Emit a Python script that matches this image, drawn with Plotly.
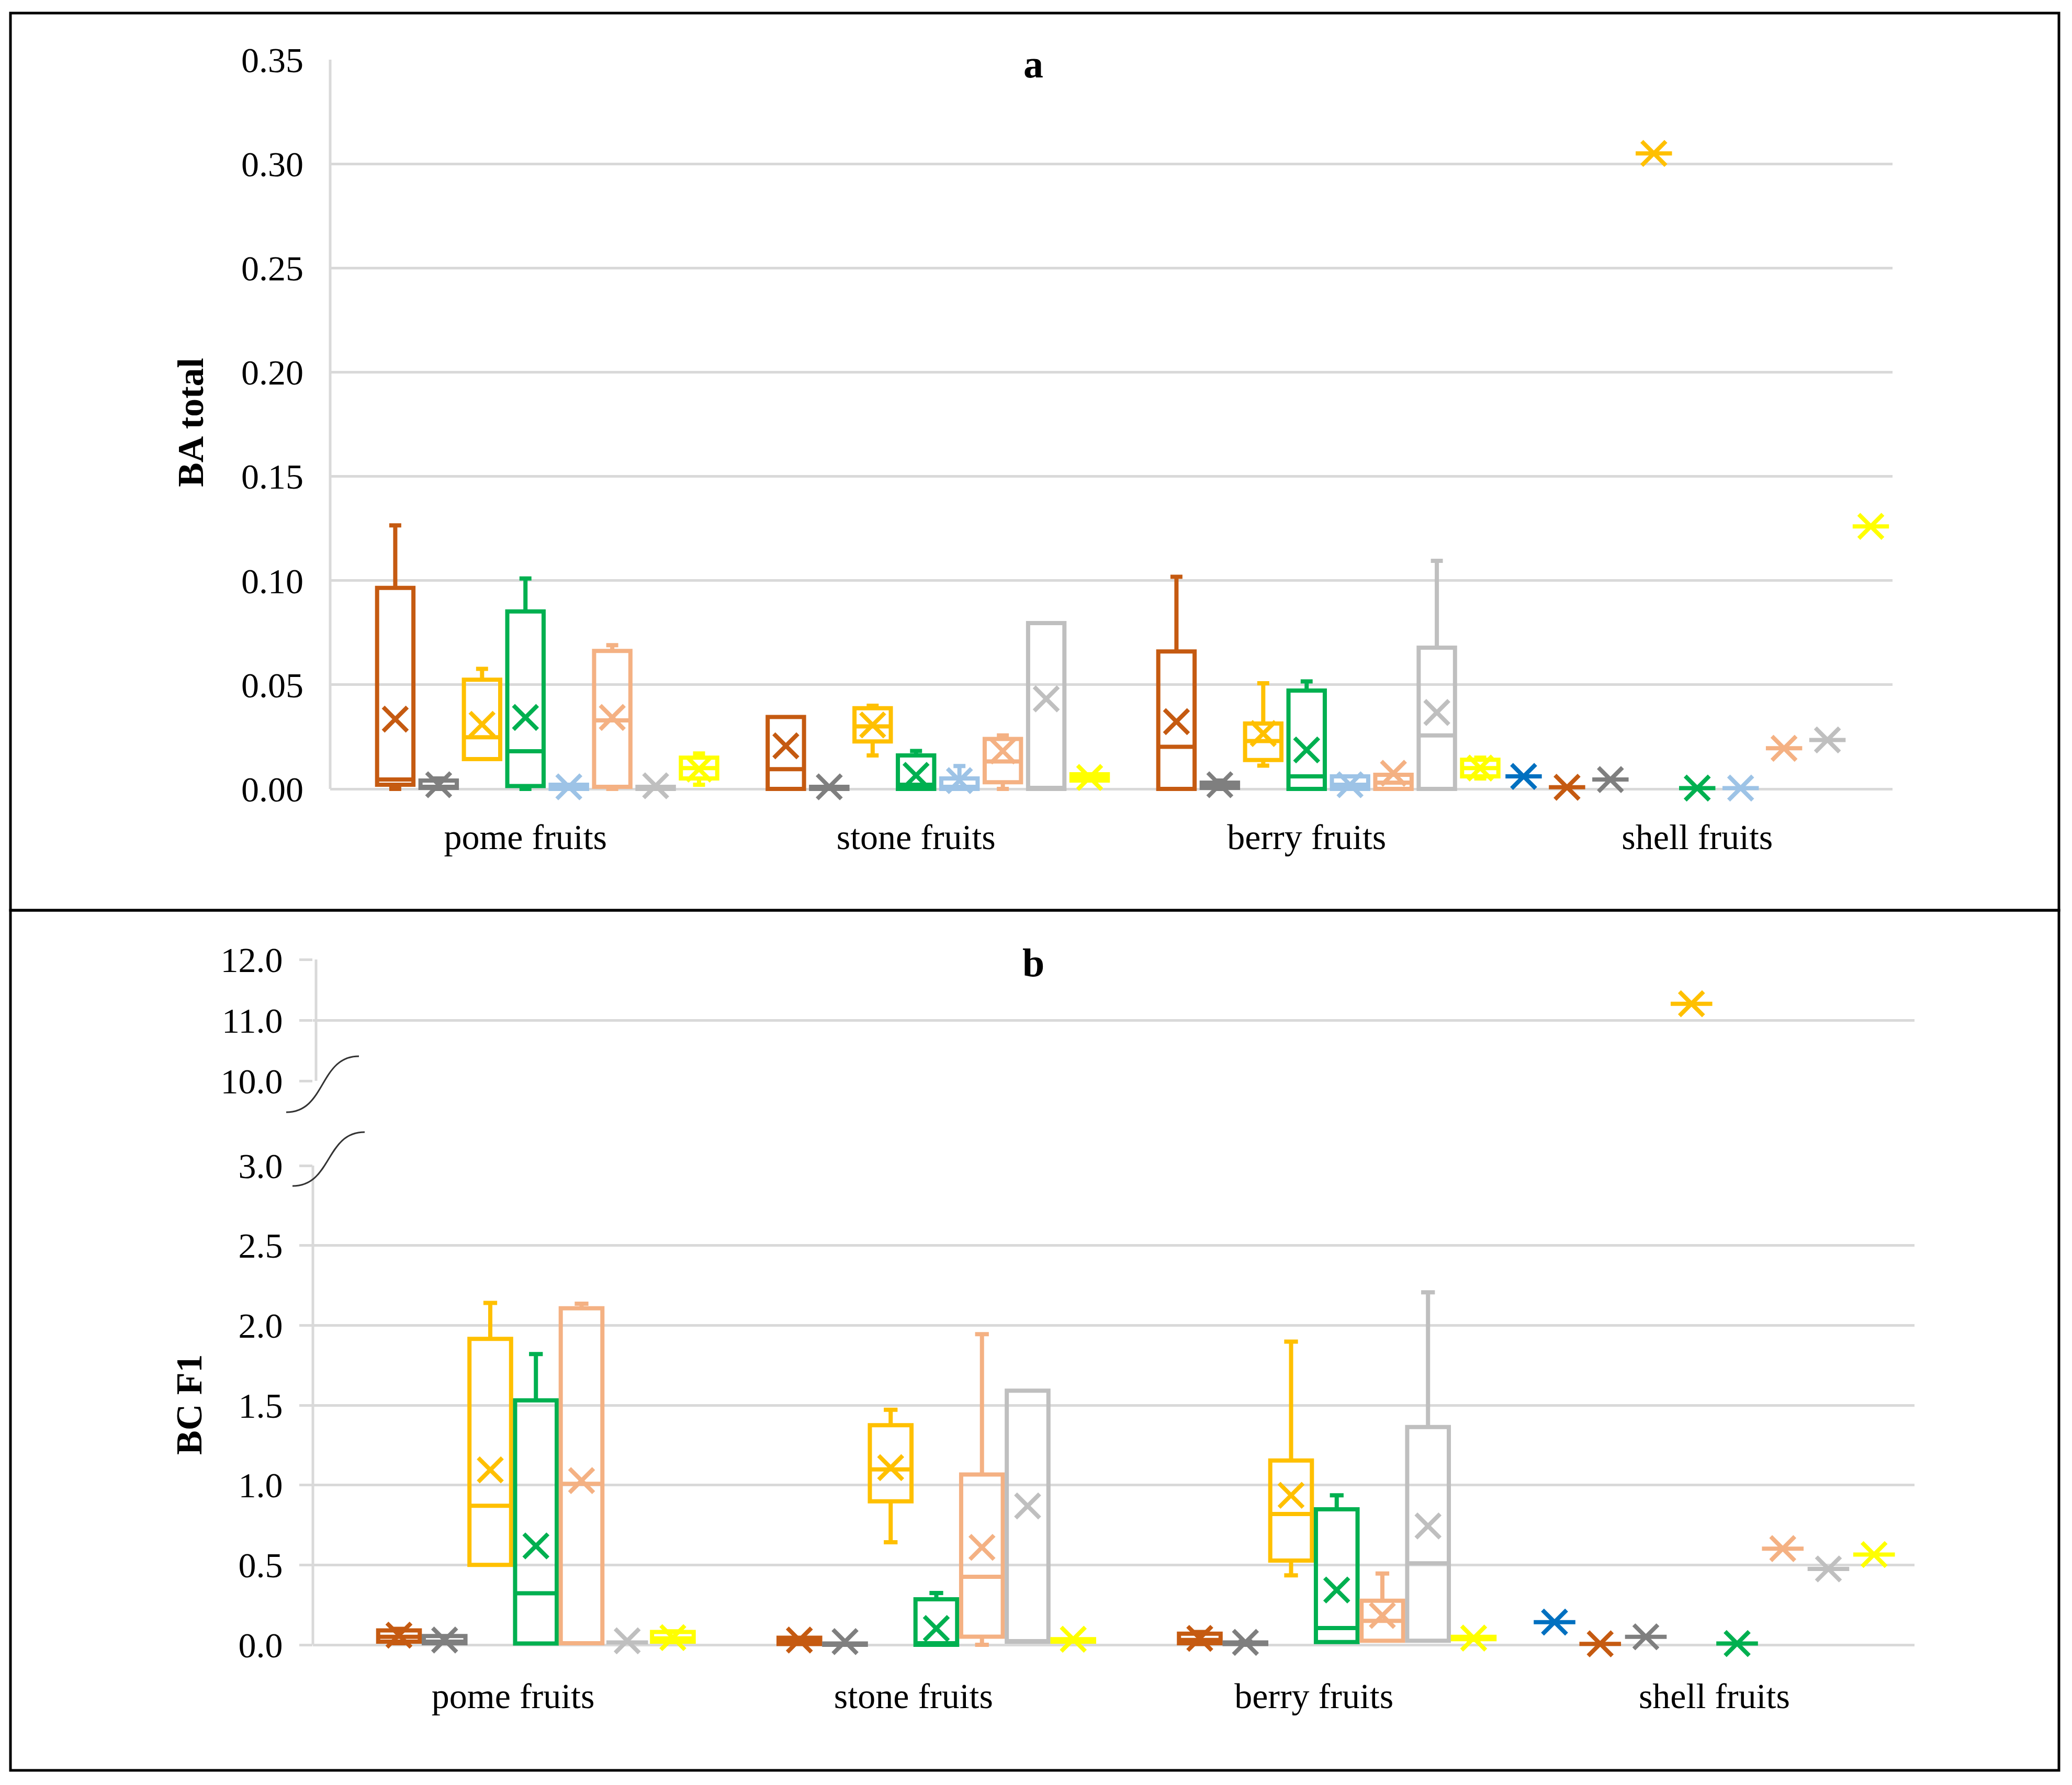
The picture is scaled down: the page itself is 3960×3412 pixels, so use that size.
import plotly.graph_objects as go

W, H = 3960, 3412
PAGE_OFFSET = 8  # default page margin around the plot div
FIG_W, FIG_H = W - PAGE_OFFSET, H - PAGE_OFFSET
FONT = "Liberation Serif"

CATEGORIES = ["pome fruits", "stone fruits", "berry fruits", "shell fruits"]

A_TICKS = [0.00, 0.05, 0.10, 0.15, 0.20, 0.25, 0.30, 0.35]
A_TICK_LABELS = ["0.00", "0.05", "0.10", "0.15", "0.20", "0.25", "0.30", "0.35"]
B_LOW_TICKS = [0.0, 0.5, 1.0, 1.5, 2.0, 2.5, 3.0]
B_LOW_LABELS = ["0.0", "0.5", "1.0", "1.5", "2.0", "2.5", "3.0"]
B_HIGH_TICKS = [10.0, 11.0, 12.0]
B_HIGH_LABELS = ["10.0", "11.0", "12.0"]

SERIES_NAMES = ["blue", "brown", "gray", "gold", "green", "light blue", "peach", "light gray", "yellow"]
SERIES_COLORS = ["#0070C0", "#C55A11", "#7F7F7F", "#FFC000", "#00B050", "#9DC3E6", "#F4B183", "#BFBFBF", "#FFFF00"]

# each entry per category: (min, q1, median, q3, max, mean); None = no data
# Panel a: BA total
A_BLUE = [None, None, None, (0.006, 0.006, 0.006, 0.006, 0.006, 0.006)]
A_BROWN = [(0.0, 0.002, 0.0045, 0.0965, 0.1265, 0.0335),
           (0.0, 0.0, 0.0095, 0.0345, 0.0345, 0.0207),
           (0.0, 0.0, 0.0202, 0.066, 0.1018, 0.0323),
           (0.0008, 0.0008, 0.0008, 0.0008, 0.0008, 0.0008)]
A_GRAY = [(0.0, 0.0005, 0.001, 0.004, 0.005, 0.002),
          (0.0, 0.0, 0.0005, 0.001, 0.001, 0.001),
          (0.0, 0.0005, 0.001, 0.003, 0.004, 0.002),
          (0.0045, 0.0045, 0.0045, 0.0045, 0.0045, 0.0045)]
A_GOLD = [(0.0143, 0.0143, 0.0248, 0.0524, 0.0576, 0.031),
          (0.0161, 0.0228, 0.030, 0.0387, 0.0399, 0.0307),
          (0.0112, 0.0139, 0.023, 0.0314, 0.0507, 0.0266),
          (0.305, 0.305, 0.305, 0.305, 0.305, 0.305)]
A_GREEN = [(0.0, 0.0014, 0.0181, 0.0852, 0.101, 0.0343),
           (0.0, 0.0, 0.002, 0.0161, 0.0182, 0.0065),
           (0.0, 0.0, 0.006, 0.0472, 0.0516, 0.0187),
           (0.0004, 0.0004, 0.0004, 0.0004, 0.0004, 0.0004)]
A_LIGHTBLUE = [(0.0, 0.0, 0.0005, 0.002, 0.002, 0.001),
               (0.0, 0.0, 0.001, 0.005, 0.011, 0.004),
               (0.0, 0.0, 0.002, 0.006, 0.006, 0.002),
               (0.0004, 0.0004, 0.0004, 0.0004, 0.0004, 0.0004)]
A_PEACH = [(0.0, 0.001, 0.0329, 0.0662, 0.069, 0.0343),
           (0.0, 0.0032, 0.0132, 0.024, 0.0257, 0.0182),
           (0.0, 0.0, 0.003, 0.0068, 0.0068, 0.0075),
           (0.0195, 0.0195, 0.0195, 0.0195, 0.0195, 0.0195)]
A_LIGHTGRAY = [(0.0, 0.0, 0.0005, 0.001, 0.001, 0.0015),
               (0.0, 0.0, 0.0005, 0.0796, 0.0796, 0.0432),
               (0.0, 0.0, 0.0257, 0.0678, 0.1095, 0.0367),
               (0.0235, 0.0235, 0.0235, 0.0235, 0.0235, 0.0235)]
A_YELLOW = [(0.002, 0.005, 0.010, 0.015, 0.017, 0.0095),
            (0.004, 0.004, 0.0055, 0.007, 0.007, 0.0055),
            (0.005, 0.006, 0.010, 0.014, 0.015, 0.010),
            (0.126, 0.126, 0.126, 0.126, 0.126, 0.126)]

# Panel b: BC F1
B_BLUE = [None, None, None, (0.142, 0.142, 0.142, 0.142, 0.142, 0.142)]
B_BROWN = [(0.01, 0.02, 0.05, 0.09, 0.10, 0.06),
           (0.005, 0.005, 0.02, 0.044, 0.044, 0.03),
           (0.005, 0.01, 0.03, 0.07, 0.08, 0.04),
           (0.006, 0.006, 0.006, 0.006, 0.006, 0.006)]
B_GRAY = [(0.01, 0.01, 0.02, 0.055, 0.055, 0.03),
          (0.0, 0.0, 0.005, 0.008, 0.008, 0.02),
          (0.0, 0.005, 0.01, 0.015, 0.02, 0.015),
          (0.05, 0.05, 0.05, 0.05, 0.05, 0.05)]
B_GOLD = [(0.50, 0.50, 0.87, 1.915, 2.14, 1.095),
          (0.642, 0.898, 1.098, 1.375, 1.471, 1.109),
          (0.435, 0.527, 0.819, 1.154, 1.898, 0.936),
          (11.27, 11.27, 11.27, 11.27, 11.27, 11.27)]
B_GREEN = [(0.008, 0.008, 0.323, 1.53, 1.82, 0.619),
           (0.0, 0.0, 0.01, 0.285, 0.324, 0.102),
           (0.017, 0.017, 0.105, 0.848, 0.936, 0.343),
           (0.008, 0.008, 0.008, 0.008, 0.008, 0.008)]
B_PEACH = [(0.01, 0.01, 1.008, 2.107, 2.135, 1.028),
           (0.0, 0.051, 0.426, 1.066, 1.945, 0.61),
           (0.025, 0.025, 0.15, 0.276, 0.446, 0.184),
           (0.602, 0.602, 0.602, 0.602, 0.602, 0.602)]
B_LIGHTGRAY = [(0.015, 0.015, 0.015, 0.015, 0.015, 0.025),
               (0.02, 0.02, 0.02, 1.591, 1.591, 0.869),
               (0.025, 0.025, 0.51, 1.363, 2.207, 0.744),
               (0.475, 0.475, 0.475, 0.475, 0.475, 0.475)]
B_YELLOW = [(0.017, 0.02, 0.04, 0.08, 0.084, 0.045),
            (0.02, 0.02, 0.03, 0.035, 0.035, 0.035),
            (0.03, 0.035, 0.042, 0.05, 0.05, 0.042),
            (0.565, 0.565, 0.565, 0.565, 0.565, 0.565)]

PANEL_A = [A_BLUE, A_BROWN, A_GRAY, A_GOLD, A_GREEN, A_LIGHTBLUE, A_PEACH, A_LIGHTGRAY, A_YELLOW]
PANEL_B = [B_BLUE, B_BROWN, B_GRAY, B_GOLD, B_GREEN, None, B_PEACH, B_LIGHTGRAY, B_YELLOW]


def px(x):
    return (x - PAGE_OFFSET) / FIG_W


def py(y):
    return 1 - (y - PAGE_OFFSET) / FIG_H


fig = go.Figure()

BOX_LINE = 8
GRID = "#D9D9D9"


def add_panel(panel, slot, width, xaxis, ylow, yhigh=None, split=None):
    active = [(i, s) for i, s in enumerate(panel) if s is not None]
    n = len(active)
    for k, (i, stats) in enumerate(active):
        color = SERIES_COLORS[i]
        offset = (k - (n - 1) / 2) * slot
        groups = {}
        for c, s in enumerate(stats):
            if s is None:
                continue
            ax = yhigh if (split is not None and s[2] > split) else ylow
            groups.setdefault(ax, []).append((c + offset, s))
        for ax, items in groups.items():
            xs = [p for p, _ in items]
            fig.add_trace(go.Box(
                x=xs,
                lowerfence=[s[0] for _, s in items],
                q1=[s[1] for _, s in items],
                median=[s[2] for _, s in items],
                q3=[s[3] for _, s in items],
                upperfence=[s[4] for _, s in items],
                orientation="v",
                width=width,
                whiskerwidth=0.33,
                line=dict(color=color, width=BOX_LINE),
                fillcolor="rgba(0,0,0,0)",
                name=SERIES_NAMES[i],
                showlegend=False,
                xaxis=xaxis, yaxis=ax,
            ))
            fig.add_trace(go.Scatter(
                x=xs,
                y=[s[5] for _, s in items],
                mode="markers",
                marker=dict(symbol="x-thin", size=46, color=color,
                            line=dict(color=color, width=8)),
                cliponaxis=False,
                name=SERIES_NAMES[i],
                showlegend=False,
                xaxis=xaxis, yaxis=ax,
            ))


add_panel(PANEL_A, slot=1 / 9, width=0.093, xaxis="x", ylow="y")
add_panel(PANEL_B, slot=0.114, width=0.104, xaxis="x2", ylow="y2", yhigh="y3", split=3.5)

# pixel geometry (screen pixels)
A_LEFT, A_RIGHT, A_TOP, A_ZERO = 631, 3617, 114, 1508
B_LEFT, B_RIGHT = 598, 3659
B_LOW_TOP, B_LOW_ZERO = 2228, 3144
B_HIGH_TOP, B_HIGH_BOT = 1834, 2066
EXT = 30

a_scale = (A_ZERO - A_TOP) / 0.35
b_scale = (B_LOW_ZERO - B_LOW_TOP) / 3.0

tick_font = dict(family=FONT, size=68, color="black")

fig.update_layout(
    template="none",
    width=FIG_W, height=FIG_H,
    margin=dict(l=0, r=0, t=0, b=0, pad=0, autoexpand=False),
    paper_bgcolor="white", plot_bgcolor="rgba(0,0,0,0)",
    boxmode="overlay",
    showlegend=False,
    font=dict(family=FONT, color="black"),
    xaxis=dict(domain=[px(A_LEFT), px(A_RIGHT)], range=[-0.5, 3.5], anchor="y",
               tickvals=[0, 1, 2, 3], ticktext=CATEGORIES, showgrid=False,
               zeroline=False, showline=False, ticks="", tickfont=tick_font,
               ticklabelstandoff=16, automargin=False),
    yaxis=dict(domain=[py(A_ZERO + EXT), py(A_TOP)], range=[-EXT / a_scale, 0.35],
               anchor="x", tickvals=A_TICKS, ticktext=A_TICK_LABELS,
               showgrid=True, gridcolor=GRID, gridwidth=5, zeroline=False,
               showline=False, ticks="", tickfont=tick_font, ticklabelstandoff=50,
               automargin=False),
    xaxis2=dict(domain=[px(B_LEFT), px(B_RIGHT)], range=[-0.5, 3.5], anchor="y2",
                tickvals=[0, 1, 2, 3], ticktext=CATEGORIES, showgrid=False,
                zeroline=False, showline=False, ticks="", tickfont=tick_font,
                ticklabelstandoff=22, automargin=False),
    yaxis2=dict(domain=[py(B_LOW_ZERO + EXT), py(B_LOW_TOP)],
                range=[-EXT / b_scale, 3.0], anchor="x2",
                tickvals=B_LOW_TICKS, ticktext=B_LOW_LABELS,
                showgrid=True, gridcolor=GRID, gridwidth=5, zeroline=False,
                showline=False, ticks="outside", ticklen=25, tickwidth=5,
                tickcolor=GRID, tickfont=tick_font, ticklabelstandoff=18,
                automargin=False),
    yaxis3=dict(domain=[py(B_HIGH_BOT), py(B_HIGH_TOP)], range=[10.0, 12.0],
                anchor="x2", tickvals=B_HIGH_TICKS, ticktext=B_HIGH_LABELS,
                showgrid=True, gridcolor=GRID, gridwidth=5, zeroline=False,
                showline=False, ticks="outside", ticklen=25, tickwidth=5,
                tickcolor=GRID, tickfont=tick_font, ticklabelstandoff=18,
                automargin=False),
)

shapes = []
# panel borders
shapes.append(dict(type="rect", xref="paper", yref="paper",
                   x0=px(20), x1=px(3935), y0=py(1740), y1=py(25),
                   line=dict(color="black", width=5), layer="above"))
shapes.append(dict(type="rect", xref="paper", yref="paper",
                   x0=px(20), x1=px(3935), y0=py(3384), y1=py(1740),
                   line=dict(color="black", width=5), layer="above"))
# vertical axis lines
shapes.append(dict(type="line", xref="paper", yref="y", x0=px(A_LEFT), x1=px(A_LEFT),
                   y0=0, y1=0.35, line=dict(color=GRID, width=5), layer="below"))
shapes.append(dict(type="line", xref="paper", yref="y2", x0=px(B_LEFT), x1=px(B_LEFT),
                   y0=0, y1=3.0, line=dict(color=GRID, width=5), layer="below"))
shapes.append(dict(type="line", xref="paper", yref="y3", x0=px(B_LEFT + 6), x1=px(B_LEFT + 6),
                   y0=10.0, y1=12.0, line=dict(color=GRID, width=5), layer="below"))


def s_curve(x0, y0, x1, y1):
    dx = x1 - x0
    c1 = (x0 + 0.55 * dx, y0)
    c2 = (x1 - 0.55 * dx, y1)
    return "M {:.5f},{:.5f} C {:.5f},{:.5f} {:.5f},{:.5f} {:.5f},{:.5f}".format(
        px(x0), py(y0), px(c1[0]), py(c1[1]), px(c2[0]), py(c2[1]), px(x1), py(y1))


for (x0, y0, x1, y1) in [(547, 2126, 686, 2019), (559, 2267, 697, 2164)]:
    shapes.append(dict(type="path", xref="paper", yref="paper",
                       path=s_curve(x0, y0, x1, y1),
                       line=dict(color="#333333", width=3), layer="above"))

fig.update_layout(shapes=shapes)

annotations = [
    dict(text="<b>a</b>", x=px(1975), y=py(122), xref="paper", yref="paper",
         showarrow=False, font=dict(family=FONT, size=76, color="black"),
         xanchor="center", yanchor="middle"),
    dict(text="<b>b</b>", x=px(1975), y=py(1840), xref="paper", yref="paper",
         showarrow=False, font=dict(family=FONT, size=76, color="black"),
         xanchor="center", yanchor="middle"),
    dict(text="<b>BA total</b>", x=px(365), y=py(808), xref="paper", yref="paper",
         showarrow=False, textangle=-90, font=dict(family=FONT, size=70, color="black"),
         xanchor="center", yanchor="middle"),
    dict(text="<b>BC F1</b>", x=px(361), y=py(2685), xref="paper", yref="paper",
         showarrow=False, textangle=-90, font=dict(family=FONT, size=70, color="black"),
         xanchor="center", yanchor="middle"),
]
fig.update_layout(annotations=annotations)

fig.write_html("out.html")
